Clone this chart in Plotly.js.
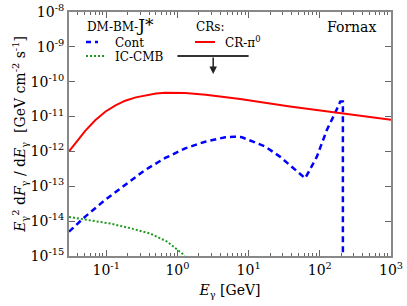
<!DOCTYPE html>
<html>
<head>
<meta charset="utf-8">
<script src="https://cdn.plot.ly/plotly-3.0.1.min.js"></script>
<style>html,body{margin:0;padding:0;background:#fff;}#chart{width:407px;height:306px;}</style>
</head>
<body>
<div id="chart"></div>
<script>
// CR-pi0 (red)
const crE = [0.03, 0.035, 0.04, 0.0507, 0.07, 0.098, 0.135, 0.185, 0.26, 0.353, 0.5, 0.675, 0.9, 1.29, 2.5, 7.6, 38, 195, 1000];
const crF = [1.0e-12, 1.5e-12, 2.1e-12, 3.9e-12, 7.8e-12, 1.4e-11, 2.1e-11, 2.85e-11, 3.55e-11, 4.1e-11, 4.6e-11, 4.85e-11, 4.9e-11, 4.75e-11, 4.2e-11, 3.2e-11, 1.95e-11, 1.26e-11, 8.1e-12];
// DM Cont (blue dashed)
const contE = [0.03, 0.0507, 0.097, 0.185, 0.353, 0.675, 1.29, 2.45, 4.7, 6.2, 8.05, 17.1, 27.5, 42.7, 62.4, 91, 126, 164, 194, 211, 211];
const contF = [5.0e-15, 1.35e-14, 4.1e-14, 1.1e-13, 2.95e-13, 6.5e-13, 1.23e-12, 1.9e-12, 2.55e-12, 2.65e-12, 2.55e-12, 1.38e-12, 7.1e-13, 3.3e-13, 1.7e-13, 7.1e-13, 4.2e-12, 1.26e-11, 2.7e-11, 2.7e-11, 1e-17];
// IC-CMB (green dotted)
const icE = [0.03, 0.0596, 0.114, 0.217, 0.415, 0.713, 0.984, 1.22, 1.4];
const icF = [1.32e-14, 1.05e-14, 8.5e-15, 6.3e-15, 4.4e-15, 2.6e-15, 1.6e-15, 1.1e-15, 5e-16];
// Upper limit (black bar)
const ulE = [1, 10];
const ulF = [5.5e-10, 5.5e-10];
const ulArrowE = 3.18;
const ulArrowTip = 1.67e-10;

const xTickVals = [0.1, 1, 10, 100, 1000];
const xTickText = ['10<sup>-1</sup>', '10<sup>0</sup>', '10<sup>1</sup>', '10<sup>2</sup>', '10<sup>3</sup>'];
const yTickVals = [1e-15, 1e-14, 1e-13, 1e-12, 1e-11, 1e-10, 1e-9, 1e-8];
const yTickText = ['10<sup>-15</sup>', '10<sup>-14</sup>', '10<sup>-13</sup>', '10<sup>-12</sup>', '10<sup>-11</sup>', '10<sup>-10</sup>', '10<sup>-9</sup>', '10<sup>-8</sup>'];

const serif = 'DejaVu Serif';

const traces = [
  {x: icE, y: icF, mode: 'lines', line: {color: '#1e9a1e', width: 2, dash: '2px,2px'}, hoverinfo: 'skip'},
  {x: contE, y: contF, mode: 'lines', line: {color: '#0000ff', width: 2.5, dash: '6px,4px'}, hoverinfo: 'skip'},
  {x: crE, y: crF, mode: 'lines', line: {color: '#ff0000', width: 2}, hoverinfo: 'skip'},
  {x: ulE, y: ulF, mode: 'lines', line: {color: '#333333', width: 2}, hoverinfo: 'skip'}
];

function px2x(px) { return (px - 69) / 322; }
function py2y(py) { return (256 - py) / 244; }

const layout = {
  width: 407, height: 306,
  margin: {l: 69, r: 16, t: 12, b: 50},
  paper_bgcolor: '#fff', plot_bgcolor: '#fff',
  showlegend: false,
  font: {family: serif, size: 13, color: '#000'},
  xaxis: {
    type: 'log', range: [Math.log10(0.03), 3],
    tickmode: 'array', tickvals: xTickVals, ticktext: xTickText,
    ticks: 'inside', ticklen: 6, tickwidth: 1, tickcolor: '#666',
    minor: {ticks: 'inside', ticklen: 3, tickcolor: '#666', dtick: 'D1', showgrid: false},
    showline: true, linecolor: '#888', linewidth: 2, mirror: 'allticks',
    showgrid: false, zeroline: false,
    tickfont: {family: serif, size: 14},
    title: {text: '<i>E</i><sub>γ</sub> [GeV]', font: {family: serif, size: 14}, standoff: 8}
  },
  yaxis: {
    type: 'log', range: [-15, -8],
    tickmode: 'array', tickvals: yTickVals, ticktext: yTickText,
    ticks: 'inside', ticklen: 6, tickwidth: 1, tickcolor: '#666',
    showline: true, linecolor: '#888', linewidth: 2, mirror: 'allticks',
    showgrid: false, zeroline: false,
    tickfont: {family: serif, size: 14},
    title: {text: '<i>E</i><sub>γ</sub><sup>2</sup> d<i>F</i><sub>γ</sub> / d<i>E</i><sub>γ</sub>  [GeV cm<sup>-2</sup> s<sup>-1</sup>]', font: {family: serif, size: 14}, standoff: 2}
  },
  shapes: [
    {type: 'line', xref: 'paper', yref: 'paper', x0: px2x(86), x1: px2x(98), y0: py2y(42), y1: py2y(42), line: {color: '#0000ff', width: 2.5, dash: '5px,4px'}},
    {type: 'line', xref: 'paper', yref: 'paper', x0: px2x(86), x1: px2x(104), y0: py2y(56), y1: py2y(56), line: {color: '#1e9a1e', width: 2, dash: '2px,2px'}},
    {type: 'line', xref: 'paper', yref: 'paper', x0: px2x(195), x1: px2x(215), y0: py2y(42), y1: py2y(42), line: {color: '#ff0000', width: 2}}
  ],
  annotations: [
    {xref: 'paper', yref: 'paper', x: px2x(85), y: py2y(25), xanchor: 'left', yanchor: 'middle', showarrow: false,
     text: 'DM-BM-<span style="font-size:17px">J*</span>', font: {family: serif, size: 12}},
    {xref: 'paper', yref: 'paper', x: px2x(113), y: py2y(43), xanchor: 'left', yanchor: 'middle', showarrow: false,
     text: 'Cont', font: {family: serif, size: 12}},
    {xref: 'paper', yref: 'paper', x: px2x(113), y: py2y(57), xanchor: 'left', yanchor: 'middle', showarrow: false,
     text: 'IC-CMB', font: {family: serif, size: 12}},
    {xref: 'paper', yref: 'paper', x: px2x(194), y: py2y(27), xanchor: 'left', yanchor: 'middle', showarrow: false,
     text: 'CRs:', font: {family: serif, size: 12}},
    {xref: 'paper', yref: 'paper', x: px2x(223), y: py2y(42), xanchor: 'left', yanchor: 'middle', showarrow: false,
     text: 'CR-π<sup>0</sup>', font: {family: serif, size: 12}},
    {xref: 'paper', yref: 'paper', x: px2x(325), y: py2y(27), xanchor: 'left', yanchor: 'middle', showarrow: false,
     text: 'Fornax', font: {family: serif, size: 14}},
    {x: Math.log10(ulArrowE), y: Math.log10(ulArrowTip), ax: 0, ay: -18, text: '', showarrow: true,
     arrowhead: 2, arrowsize: 1, arrowwidth: 1.5, arrowcolor: '#222'}
  ]
};

Plotly.newPlot('chart', traces, layout, {staticPlot: true, displayModeBar: false});
</script>
</body>
</html>
